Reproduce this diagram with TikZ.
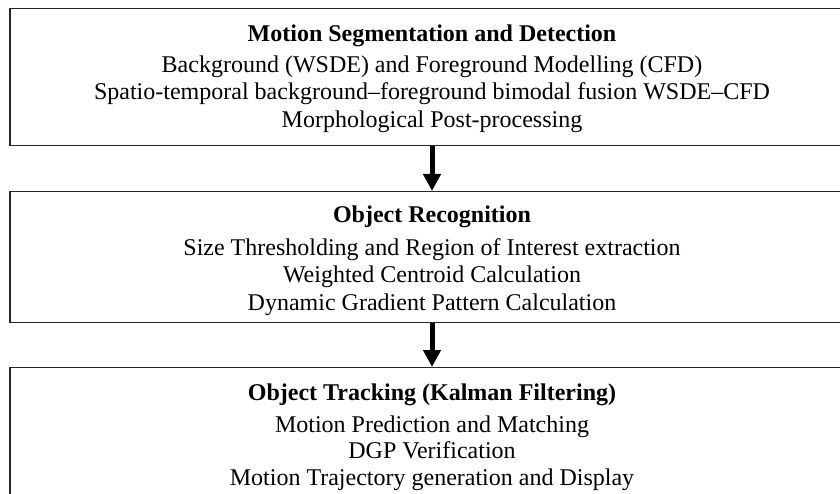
\documentclass[tikz,border=0pt]{standalone}
\usepackage{fontspec}
\setmainfont{Liberation Serif}
\usetikzlibrary{arrows.meta}
\begin{document}
\begin{tikzpicture}[x=1pt,y=-1pt,
  stage/.style={draw=black!85,line width=1.4pt,minimum width=844pt,inner sep=0pt,anchor=north},
  txt/.style={anchor=base,inner sep=0pt,font=\fontsize{24}{29}\selectfont},
  ttl/.style={txt,font=\fontsize{24}{29}\selectfont\bfseries},
  flow/.style={line width=5pt,-{Triangle[width=17pt,length=17pt]}}]
\useasboundingbox (0,0) rectangle (840,494);
\node[stage,minimum height=137pt] (b1) at (432,8) {};
\node[stage,minimum height=131pt] (b2) at (432,191) {};
\node[stage,minimum height=140pt] (b3) at (432,367) {};
\node[ttl] (t1) at (432,42) {Motion Segmentation and Detection};
\node[txt] (l11) at (432,73) {Background (WSDE) and Foreground Modelling (CFD)};
\node[txt] (l12) at (432,100) {Spatio-temporal background–foreground bimodal fusion WSDE–CFD};
\node[txt] (l13) at (432,128) {Morphological Post-processing};
\node[ttl] (t2) at (432,223) {Object Recognition};
\node[txt] (l21) at (432,255) {Size Thresholding and Region of Interest extraction};
\node[txt] (l22) at (432,283) {Weighted Centroid Calculation};
\node[txt] (l23) at (432,310) {Dynamic Gradient Pattern Calculation};
\node[ttl] (t3) at (432,400) {Object Tracking (Kalman Filtering)};
\node[txt] (l31) at (432,432) {Motion Prediction and Matching};
\node[txt] (l32) at (432,458) {DGP Verification};
\node[txt] (l33) at (432,485) {Motion Trajectory generation and Display};
\draw[flow] (b1.south) -- (b2.north);
\draw[flow] (b2.south) -- (b3.north);
\end{tikzpicture}
\end{document}
